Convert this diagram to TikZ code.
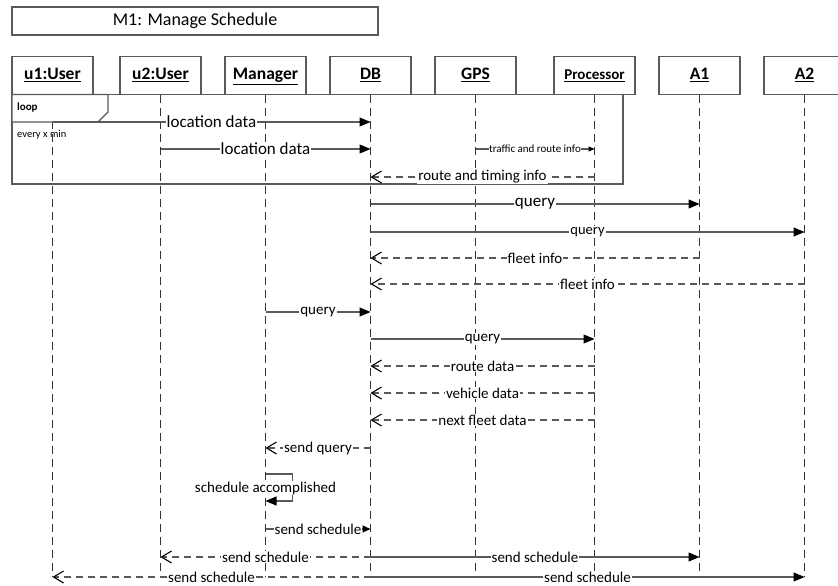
\documentclass[tikz,border=0pt]{standalone}
\usepackage{fontspec}
\setmainfont{Carlito}
\usepackage{xcolor}
\usetikzlibrary{positioning}
\usetikzlibrary{arrows.meta}
\definecolor{linegray}{RGB}{90,90,90}
\newcommand{\fs}[1]{\fontsize{#1}{#1}\selectfont}

\begin{document}
\begin{tikzpicture}[x=1pt, y=-1pt,
    obj/.style={draw=linegray, line width=1.2pt, fill=white, minimum width=81pt,
        minimum height=38pt, inner sep=0pt, outer sep=0pt, text height=12pt,
        text depth=4pt, font=\fs{17.5}\bfseries},
    lifeline/.style={black!80, line width=1pt, dash pattern=on 8pt off 5pt},
    call/.style={linegray, line width=1.1pt, -{Triangle[length=11pt,width=9pt,color=black]}},
    reply/.style={linegray, line width=1.1pt, dash pattern=on 7pt off 5pt,
        -{Straight Barb[length=10pt,width=12pt,color=black]}},
    lbl/.style={fill=white, inner sep=1pt, text=black, font=\fs{15}}]

    \useasboundingbox (0,0) rectangle (838,586);

    \def\d{24pt}

    % title of the sequence
    \node[draw=linegray, line width=1.2pt, minimum width=366pt, minimum height=28pt,
        inner sep=0pt, font=\fs{18}] (title) at (195,21) {M1: Manage Schedule};

    % objects, left to right
    \node[obj] (u1) at (52.5,75.5) {\underline{u1:User}};
    \node[obj] (u2) [right=27pt of u1] {\underline{u2:User}};
    \node[obj] (manager) [right=\d of u2] {\underline{Manager}};
    \node[obj] (db) [right=\d of manager] {\underline{DB}};
    \node[obj] (gps) [right=\d of db] {\underline{GPS}};
    \node[obj, font=\fs{15}\bfseries] (proc) [right=38pt of gps] {\underline{Processor}};
    \node[obj] (a1) [right=\d of proc] {\underline{A1}};
    \node[obj] (a2) [right=\d of a1] {\underline{A2}};

    % lifelines
    \coordinate (bottom) at (0,577);
    \foreach \o in {u1,u2,manager,db,gps,proc,a1,a2}
        \draw[lifeline] (\o.south) -- (\o.south |- bottom);

    % message rows
    \foreach \r/\y in {1/122, 2/149, 3/177, 4/204, 5/232, 6/258, 7/284, 8/312,
        9/339, 10/366, 11/393, 12/420, 13/448, 14/474, 15/501, 16/529, 17/557, 18/577}
        \coordinate (r\r) at (0,\y);

    % loop fragment
    \draw[linegray, line width=1.2pt] (u1.south west) rectangle (623,184);
    \draw[linegray, line width=1.2pt, fill=white] (u1.south west) -- (108,94.5)
        -- (108,112) -- (98,122) -- (12,122) -- cycle;
    \node[anchor=west, inner sep=0pt, font=\fs{11}\bfseries] (looptag) at (17,108) {loop};
    \node[anchor=west, inner sep=0pt, font=\fs{10.5}] (guard) at (17,135) {every x min};

    \draw[call] (u1 |- r1) -- node[lbl, font=\fs{17}] {location data} (db |- r1);
    \draw[call] (u2 |- r2) -- node[lbl, font=\fs{17}] {location data} (db |- r2);
    \draw[call, -{Triangle[length=6pt,width=5pt,color=black]}] (gps |- r2)
        -- node[lbl, inner sep=0.5pt, font=\fs{11}] {traffic and route info} (proc |- r2);
    \draw[reply] (proc |- r3) -- node[lbl] {route and timing info} (db |- r3);

    % queries to the agencies
    \draw[call] (db |- r4) -- node[lbl, font=\fs{17}] {query} (a1 |- r4);
    \draw[call] (db |- r5) -- node[lbl, font=\fs{14.5}] {query} (a2 |- r5);
    \draw[reply] (a1 |- r6) -- node[lbl] {fleet info} (db |- r6);
    \draw[reply] (a2 |- r7) -- node[lbl] {fleet info} (db |- r7);

    % manager asks for the schedule
    \draw[call] (manager |- r8) -- node[lbl] {query} (db |- r8);
    \draw[call] (db |- r9) -- node[lbl] {query} (proc |- r9);
    \draw[reply] (proc |- r10) -- node[lbl] {route data} (db |- r10);
    \draw[reply] (proc |- r11) -- node[lbl] {vehicle data} (db |- r11);
    \draw[reply] (proc |- r12) -- node[lbl] {next fleet data} (db |- r12);
    \draw[reply] (db |- r13) -- node[lbl] {send query} (manager |- r13);

    % self call
    \draw[call] (manager |- r14) -- ++(27,0) |- (manager |- r15);
    \node[lbl] (selfnote) at (265.5,488) {schedule accomplished};

    % schedule sent out
    \draw[call, -{Triangle[length=8pt,width=7pt,color=black]}] (manager |- r16)
        -- node[lbl] {send schedule} (db |- r16);
    \draw[reply] (db |- r17) -- node[lbl] {send schedule} (u2 |- r17);
    \draw[call] (db |- r17) -- node[lbl] {send schedule} (a1 |- r17);
    \draw[reply] (db |- r18) -- node[lbl] {send schedule} (u1 |- r18);
    \draw[call] (db |- r18) -- node[lbl] {send schedule} (a2 |- r18);

\end{tikzpicture}
\end{document}
